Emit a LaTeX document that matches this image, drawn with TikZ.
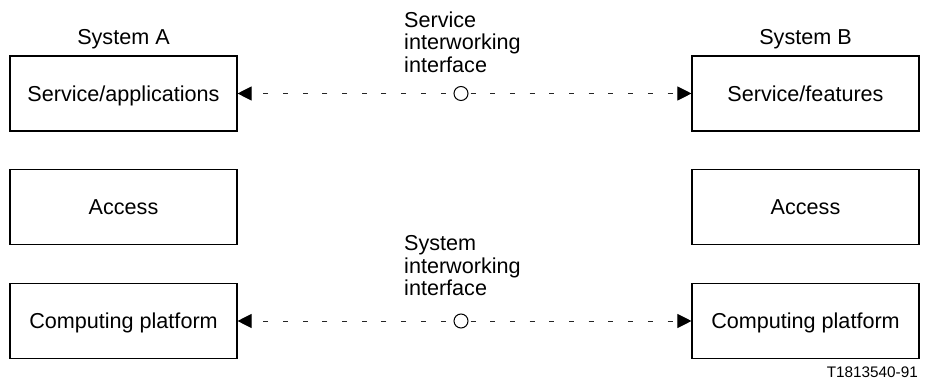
\documentclass[tikz,border=0pt]{standalone}
\usepackage{fontspec}
\setmainfont{Liberation Sans}
\usetikzlibrary{arrows.meta}

\begin{document}
\begin{tikzpicture}[x=1pt, y=1pt,
  every node/.style={inner sep=0pt},
  txt/.style={font=\fontsize{21.6}{22.5}\selectfont},
  unit/.style={txt, draw, line width=1.1pt, minimum width=227pt, minimum height=75pt,
               text height=15.5pt, text depth=0pt},
  port/.style={draw, circle, line width=1pt, fill=white, minimum size=14pt},
  link/.style={black!85, line width=0.9pt, dash pattern=on 5pt off 14.7pt,
               -{Triangle[length=14pt, width=14pt, color=black]}},
  caption/.style={txt, anchor=north west, align=left}
]
  \useasboundingbox (0,0) rectangle (928,385);

  % System A stack
  \node[unit] (sa) at (123.5,291.5) {Service/applications};
  \node[unit] (aa) at (123.5,178)   {Access};
  \node[unit] (ca) at (123.5,64)    {Computing platform};
  \node[txt, anchor=base] (tA) at ([yshift=11pt]sa.north) {System A};

  % System B stack
  \node[unit] (sb) at (805.5,291.5) {Service/features};
  \node[unit] (ab) at (805.5,178)   {Access};
  \node[unit] (cb) at (805.5,64)    {Computing platform};
  \node[txt, anchor=base] (tB) at ([yshift=11pt]sb.north) {System B};

  % Interworking interfaces
  \node[port] (si) at (461,291.5) {};
  \node[port] (yi) at (461,64) {};
  \node[caption] (siL) at (404,373.6) {Service\\interworking\\interface};
  \node[caption] (yiL) at (404,149.6) {System\\interworking\\interface};

  \draw[link, dash phase=11.7pt] (si) -- (sa);
  \draw[link, dash phase=17.7pt] (si) -- (sb);
  \draw[link, dash phase=11.7pt] (yi) -- (ca);
  \draw[link, dash phase=17.7pt] (yi) -- (cb);

  % Figure reference
  \node[anchor=base east, font=\fontsize{15.3}{18}\selectfont] (ref) at (918,7) {T1813540-91};
\end{tikzpicture}
\end{document}
